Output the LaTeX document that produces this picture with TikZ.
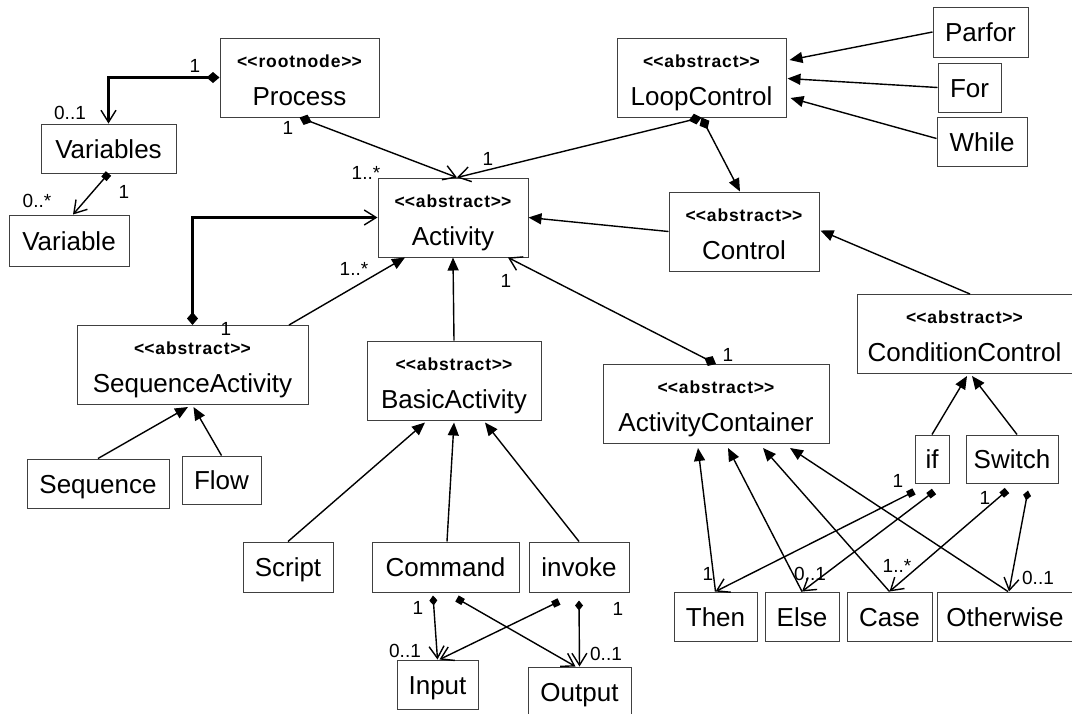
\documentclass[tikz,border=0pt]{standalone}
\usepackage{fontspec}
\setmainfont{Liberation Sans}
\newfontfamily\stfont[LetterSpace=5]{Liberation Sans}
\usetikzlibrary{arrows.meta}
\newcommand\stereo[1]{<\kern0pt<#1>\kern0pt>}
\tikzset{
  box/.style={draw=black!75, line width=1pt, rectangle, inner sep=0pt,
    font=\fontsize{26}{30}\selectfont, text height=19pt, text depth=0pt},
  sttext/.style={font=\stfont\bfseries\fontsize{17.5}{20}\selectfont, inner sep=0pt, anchor=base},
  nmtext/.style={font=\fontsize{26}{30}\selectfont, inner sep=0pt, anchor=base},
  lbl/.style={font=\fontsize{19}{21}\selectfont, inner sep=0pt, text height=14pt, text depth=0pt},
  conn/.style={line width=1.4pt},
  gen/.style={conn, -{Triangle[length=13pt,width=11pt]}},
  asc/.style={conn, -{Straight Barb[length=12pt,width=15pt,line width=1.4pt]}},
  dasc/.style={conn, {Diamond[length=13pt,width=11pt]}-{Straight Barb[length=12pt,width=15pt,line width=1.4pt]}},
  sdasc/.style={conn, {Diamond[length=10pt,width=8pt]}-{Straight Barb[length=12pt,width=15pt,line width=1.4pt]}},
  sasc/.style={conn, {Square[length=7pt,width=7pt]}-{Straight Barb[length=12pt,width=15pt,line width=1.4pt]}},
  dgen/.style={conn, {Diamond[length=13pt,width=11pt]}-{Triangle[length=13pt,width=11pt]}},
  thickconn/.style={line width=2.8pt},
}
% two-line box: name, cx, cy, width, stereotype, label
\newcommand\twobox[6]{%
  \node[box, minimum width=#4pt, minimum height=79pt] (#1) at (#2,#3) {};
  \node[sttext] (#1-st) at (#2,#3-10.5) {\stereo{#5}};
  \node[nmtext] (#1-nm) at (#2,#3+27.5) {#6};
}
\begin{document}
\begin{tikzpicture}[x=1pt,y=-1pt]
\useasboundingbox (0,0) rectangle (1072,713);

% ---- boxes ----
\twobox{Process}{299.5}{77.5}{159}{rootnode}{Process}
\twobox{Activity}{453}{217.5}{150}{abstract}{Activity}
\twobox{LoopControl}{701.5}{77.5}{169}{abstract}{LoopControl}
\twobox{Control}{744}{231.5}{150}{abstract}{Control}
\twobox{SequenceActivity}{192.5}{365}{231}{abstract}{SequenceActivity}
\twobox{BasicActivity}{454}{380.5}{174}{abstract}{BasicActivity}
\twobox{ActivityContainer}{716}{404}{226}{abstract}{ActivityContainer}
\twobox{ConditionControl}{964.5}{334}{215}{abstract}{ConditionControl}

\node[box, minimum width=135pt, minimum height=49pt] (Variables) at (108.5,148.5) {Variables};
\node[box, minimum width=120pt, minimum height=51pt] (Variable) at (69,240.5) {Variable};
\node[box, minimum width=95pt, minimum height=50pt] (Parfor) at (980.5,32) {Parfor};
\node[box, minimum width=63pt, minimum height=49pt] (For) at (969.5,87.5) {For};
\node[box, minimum width=90pt, minimum height=49pt] (While) at (982,141.5) {While};
\node[box, minimum width=142pt, minimum height=49pt] (Sequence) at (98,483.5) {Sequence};
\node[box, minimum width=79pt, minimum height=48pt] (Flow) at (221.5,480) {Flow};
\node[box, minimum width=34pt, minimum height=48pt] (if) at (932,459) {if};
\node[box, minimum width=92pt, minimum height=48pt] (Switch) at (1012,459) {Switch};
\node[box, minimum width=83pt, minimum height=49pt] (Then) at (715.5,616.5) {Then};
\node[box, minimum width=74pt, minimum height=49pt] (Else) at (802,616.5) {Else};
\node[box, minimum width=85pt, minimum height=49pt] (Case) at (889.5,616.5) {Case};
\node[box, minimum width=136pt, minimum height=49pt] (Otherwise) at (1005,616.5) {Otherwise};
\node[box, minimum width=90pt, minimum height=50pt] (Script) at (288,567) {Script};
\node[box, minimum width=147pt, minimum height=50pt] (Command) at (445.5,567) {Command};
\node[box, minimum width=100pt, minimum height=50pt] (invoke) at (579,567) {invoke};
\node[box, minimum width=81pt, minimum height=49pt] (Input) at (437.5,684.5) {Input};
\node[box, minimum width=103pt, minimum height=50pt] (Output) at (579.5,692) {Output};

% ---- connectors ----
\draw[dasc, thickconn] (Process.west) -| (Variables.north);
\draw[sasc] (Variables.south) -- ([xshift=4pt]Variable.north);
\draw[dasc] (Process.south) -- ([xshift=4pt]Activity.north);
\draw[dasc] (LoopControl.south) -- ([xshift=4pt]Activity.north);
\draw[dgen] (LoopControl.south) -- ([xshift=-4pt]Control.north);
\draw[gen] (Control.west) -- (Activity.east);
\draw[gen] (Parfor.west) -- ([xshift=3pt,yshift=17.5pt]LoopControl.east);
\draw[gen] (For.west) -- ([xshift=1pt,yshift=-1pt]LoopControl.east);
\draw[gen] ([yshift=3pt]While.west) -- ([xshift=4pt,yshift=-20.5pt]LoopControl.east);
\draw[dasc, thickconn] (SequenceActivity.north) |- (Activity.west);
\draw[gen] ([xshift=96.5pt]SequenceActivity.north) -- ([xshift=-48pt]Activity.south);
\draw[gen] (BasicActivity.north) -- (Activity.south);
\draw[dasc] (ActivityContainer.north) -- ([xshift=55pt]Activity.south);
\draw[gen] ([xshift=5.5pt]ConditionControl.north) -- ([xshift=1pt,yshift=1pt]Control.east);
\draw[gen] (Sequence.north) -- ([xshift=-4.5pt,yshift=-2pt]SequenceActivity.south);
\draw[gen] (Flow.north) -- ([xshift=1pt,yshift=-2pt]SequenceActivity.south);
\draw[gen] (Script.north) -- ([xshift=-29pt,yshift=-2pt]BasicActivity.south);
\draw[gen] ([xshift=1.5pt]Command.north) -- ([yshift=-2pt]BasicActivity.south);
\draw[gen] (invoke.north) -- ([xshift=31pt,yshift=-2pt]BasicActivity.south);
\draw[gen] (if.north) -- ([xshift=2.5pt,yshift=-2pt]ConditionControl.south);
\draw[gen] ([xshift=5pt]Switch.north) -- ([xshift=7.5pt,yshift=-2pt]ConditionControl.south);
\draw[gen] (Then.north) -- ([xshift=-18pt,yshift=-4pt]ActivityContainer.south);
\draw[gen] (Else.north) -- ([xshift=12pt,yshift=-4pt]ActivityContainer.south);
\draw[gen] (Case.north) -- ([xshift=47pt,yshift=-4pt]ActivityContainer.south);
\draw[gen] ([xshift=3pt]Otherwise.north) -- ([xshift=74pt,yshift=-4pt]ActivityContainer.south);
\draw[sasc] ([xshift=-18pt,yshift=-8pt]if.south) -- (Then.north);
\draw[sasc] ([xshift=2pt,yshift=-8pt]if.south) -- (Else.north);
\draw[sasc] ([xshift=-5pt,yshift=-7pt]Switch.south) -- (Case.north);
\draw[sdasc] ([xshift=16pt,yshift=-7pt]Switch.south) -- ([xshift=4pt]Otherwise.north);
\draw[sdasc] ([xshift=-12.5pt,yshift=-3pt]Command.south) -- (Input.north);
\draw[sasc] ([xshift=11.5pt,yshift=-6pt]Command.south) -- ([xshift=-4pt]Output.north);
\draw[sasc] ([xshift=-20pt,yshift=-9pt]invoke.south) -- ([xshift=2pt]Input.north);
\draw[sdasc] ([yshift=-8pt]invoke.south) -- (Output.north);

% ---- multiplicity labels ----
\node[lbl] (m1) at (195,65) {1};
\node[lbl] (m2) at (70,112) {0..1};
\node[lbl] (m3) at (124,191) {1};
\node[lbl] (m4) at (37,200) {0..*};
\node[lbl] (m5) at (288,127) {1};
\node[lbl] (m6) at (366,172) {1..*};
\node[lbl] (m7) at (488,158) {1};
\node[lbl] (m8) at (226,328) {1};
\node[lbl] (m9) at (354,268) {1..*};
\node[lbl] (m10) at (506,280) {1};
\node[lbl] (m11) at (728,354) {1};
\node[lbl] (m12) at (898,480) {1};
\node[lbl] (m13) at (708,573) {1};
\node[lbl] (m14) at (810,573) {0..1};
\node[lbl] (m15) at (985,497) {1};
\node[lbl] (m16) at (897,565) {1..*};
\node[lbl] (m17) at (1038,577) {0..1};
\node[lbl] (m18) at (418,607) {1};
\node[lbl] (m19) at (405,650) {0..1};
\node[lbl] (m20) at (618,608) {1};
\node[lbl] (m21) at (606,653) {0..1};
\end{tikzpicture}
\end{document}
